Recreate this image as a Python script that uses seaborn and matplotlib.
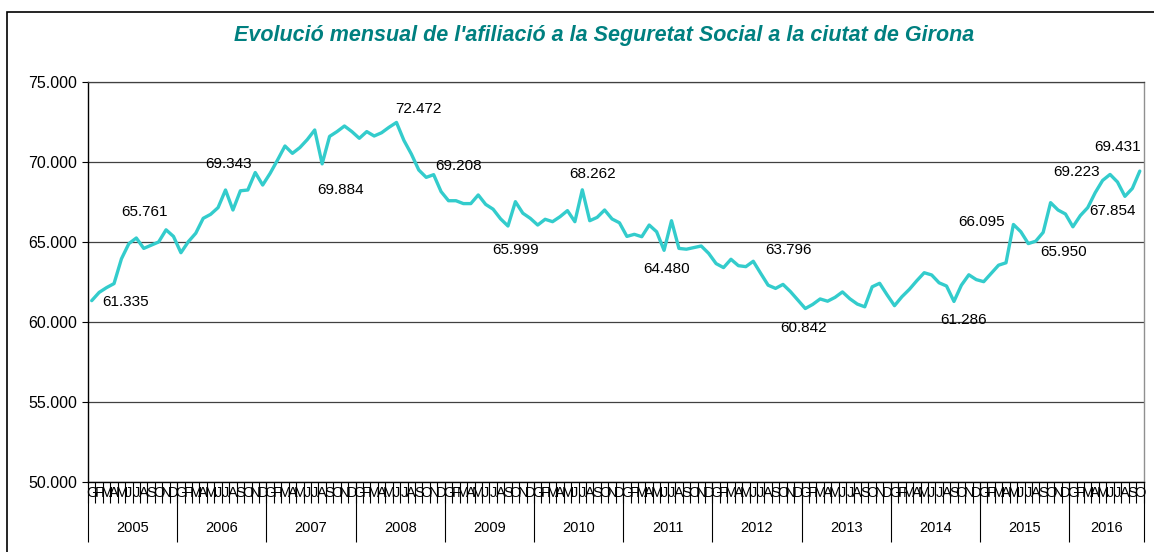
import numpy as np
import pandas as pd
import matplotlib
matplotlib.use("Agg")
import matplotlib.pyplot as plt
import seaborn as sns
from matplotlib.patches import Rectangle
from matplotlib.ticker import FuncFormatter

# Dades: afiliats mensuals a Girona (llegits del gràfic)
anys = [2005, 2006, 2007, 2008, 2009, 2010, 2011, 2012, 2013, 2014, 2015, 2016]
mesos = ["G", "F", "M", "A", "M", "J", "J", "A", "S", "O", "N", "D"]

afiliats_2005 = [61335, 61850, 62150, 62400, 63950, 64900, 65250, 64600, 64800, 65000, 65761, 65350]
afiliats_2006 = [64330, 65020, 65550, 66480, 66730, 67150, 68250, 67000, 68200, 68250, 69343, 68560]
afiliats_2007 = [69290, 70125, 71000, 70540, 70900, 71400, 72000, 69884, 71600, 71900, 72250, 71900]
afiliats_2008 = [71480, 71900, 71625, 71830, 72170, 72472, 71350, 70500, 69500, 69040, 69208, 68150]
afiliats_2009 = [67580, 67580, 67400, 67400, 67940, 67350, 67050, 66450, 65999, 67520, 66800, 66480]
afiliats_2010 = [66060, 66420, 66270, 66580, 66960, 66270, 68262, 66330, 66540, 67000, 66440, 66200]
afiliats_2011 = [65350, 65480, 65330, 66060, 65640, 64480, 66330, 64600, 64550, 64650, 64750, 64290]
afiliats_2012 = [63650, 63400, 63920, 63520, 63460, 63796, 63040, 62300, 62100, 62350, 61900, 61375]
afiliats_2013 = [60842, 61100, 61440, 61300, 61540, 61880, 61450, 61120, 60950, 62200, 62420, 61700]
afiliats_2014 = [61020, 61580, 62040, 62580, 63080, 62940, 62450, 62250, 61286, 62300, 62950, 62650]
afiliats_2015 = [62520, 63040, 63550, 63700, 66095, 65640, 64900, 65050, 65600, 67460, 67000, 66750]
afiliats_2016 = [65950, 66650, 67150, 68080, 68850, 69223, 68750, 67854, 68350, 69431]

afiliats = (afiliats_2005 + afiliats_2006 + afiliats_2007 + afiliats_2008 + afiliats_2009
            + afiliats_2010 + afiliats_2011 + afiliats_2012 + afiliats_2013 + afiliats_2014
            + afiliats_2015 + afiliats_2016)

# punts amb etiqueta de valor
punts_etiquetats = [0, 10, 22, 31, 41, 46, 56, 66, 77, 89, 96, 116, 124, 132, 137, 139, 141]

n = len(afiliats)
df = pd.DataFrame({"idx": np.arange(n), "afiliats": afiliats})
lletres = [mesos[i % 12] for i in range(n)]


def punts_mil(v, pos=None):
    return f"{int(round(v)):,}".replace(",", ".")


sns.set_theme(style="white")
plt.rcParams["font.family"] = ["Liberation Sans", "DejaVu Sans"]
plt.rcParams["text.color"] = "black"
plt.rcParams["xtick.color"] = "black"
plt.rcParams["ytick.color"] = "black"
plt.rcParams["xtick.labelcolor"] = "black"
plt.rcParams["ytick.labelcolor"] = "black"

W, H = 1154, 552
fig = plt.figure(figsize=(W / 100, H / 100), dpi=100)
ax = fig.add_axes([88 / W, 1 - 482 / H, (1143.5 - 88) / W, 400 / H])

sns.lineplot(data=df, x="idx", y="afiliats", ax=ax, color="#33CCCC", linewidth=2.4,
             solid_joinstyle="round", solid_capstyle="round", zorder=3)

ax.set_xlim(-0.5, n - 0.5)
ax.set_ylim(50000, 75000)
ax.set_xlabel("")
ax.set_ylabel("")

# eix Y
ax.set_yticks(range(50000, 75001, 5000))
ax.yaxis.set_major_formatter(FuncFormatter(punts_mil))
ax.tick_params(axis="y", length=4.3, width=0.8, color="black", direction="out",
               labelsize=11.5, labelcolor="black", pad=3.5, left=True)
ax.grid(axis="y", color="#404040", linewidth=0.9)
ax.grid(axis="x", visible=False)

# eix X: lletres dels mesos i separadors
ax.set_xticks(np.arange(n))
ax.set_xticklabels(lletres, family=["Liberation Sans Narrow", "Liberation Sans", "DejaVu Sans"])
ax.tick_params(axis="x", which="major", length=0, pad=3, labelsize=10.5, labelcolor="black")
ax.set_xticks(np.arange(n + 1) - 0.5, minor=True)
ax.tick_params(axis="x", which="minor", length=15, width=0.8, color="black",
               direction="out", bottom=True)

# segon eix per als anys
limits = [i * 12 - 0.5 for i in range(len(anys))] + [n - 0.5]
centres = [(limits[i] + limits[i + 1]) / 2 for i in range(len(anys))]
sec = ax.secondary_xaxis("bottom")
sec.set_xticks(limits)
sec.set_xticklabels([])
sec.set_xticks(centres, labels=[str(a) for a in anys], minor=True)
sec.tick_params(which="major", length=43, width=0.8, color="black", direction="out")
sec.tick_params(which="minor", length=0, pad=28, labelsize=10.5, labelcolor="black")
sec.spines["bottom"].set_visible(False)

for s in ["left", "bottom"]:
    ax.spines[s].set_color("black")
    ax.spines[s].set_linewidth(1)
ax.spines["right"].set_color("#909090")
ax.spines["right"].set_linewidth(1)
ax.spines["top"].set_color("#404040")
ax.spines["top"].set_linewidth(0.9)

# etiquetes de valor
despl = {0: (34, -1), 10: (-22, 18), 22: (-27, 9), 31: (18, -26), 41: (22, 13),
         46: (25, 9), 56: (8, -24), 66: (10, 16), 77: (2, -19), 89: (35, 11),
         96: (-2, -19), 116: (10, -19), 124: (-32, 2), 132: (-9, -25),
         137: (-33, 2), 139: (-12, -15), 141: (-22, 24)}
for i in punts_etiquetats:
    ax.annotate(punts_mil(afiliats[i]), xy=(i, afiliats[i]), xytext=despl[i],
                textcoords="offset pixels", ha="center", va="center",
                fontsize=11, color="black", zorder=4)

fig.text(604 / W, 1 - 35 / H,
         "Evolució mensual de l'afiliació a la Seguretat Social a la ciutat de Girona",
         ha="center", va="center", fontsize=15.5, fontweight="bold", style="italic",
         color="#008080")

fig.patches.append(Rectangle((7 / W, -0.05), 1.1, 1 - 12 / H + 0.05, transform=fig.transFigure,
                             fill=False, edgecolor="black", linewidth=1.2))

fig.savefig("out.png", dpi=100)
